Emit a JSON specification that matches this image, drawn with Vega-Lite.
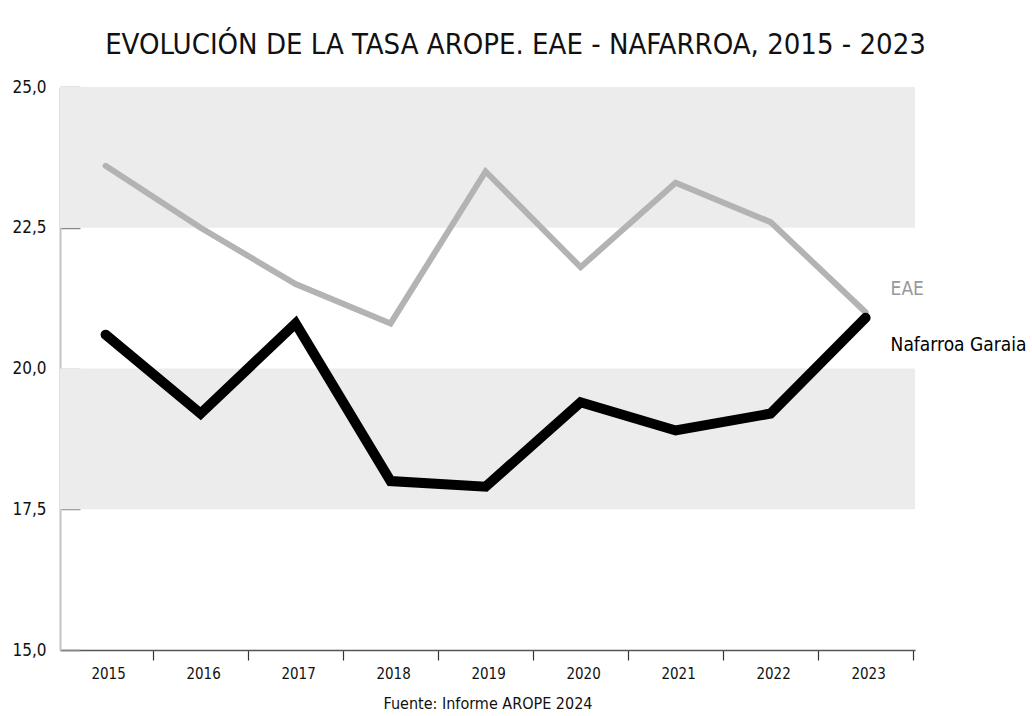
{
  "$schema": "https://vega.github.io/schema/vega-lite/v6.json",
  "autosize": "none",
  "width": 855,
  "height": 563,
  "padding": {"left": 60, "top": 87, "right": 117, "bottom": 66},
  "background": "white",
  "config": {
    "view": {"stroke": null},
    "font": "DejaVu Sans Condensed, Roboto, sans-serif"
  },
  "title": {
    "text": "EVOLUCIÓN DE LA TASA AROPE. EAE - NAFARROA, 2015 - 2023",
    "font": "DejaVu Sans Condensed, Roboto, sans-serif",
    "fontSize": 29,
    "fontWeight": "normal",
    "color": "#111111",
    "anchor": "middle",
    "dx": 28,
    "offset": 18
  },
  "datasets": {
    "series": [
      {"year": 2015, "serie": "EAE", "value": 23.6},
      {"year": 2016, "serie": "EAE", "value": 22.5},
      {"year": 2017, "serie": "EAE", "value": 21.5},
      {"year": 2018, "serie": "EAE", "value": 20.8},
      {"year": 2019, "serie": "EAE", "value": 23.5},
      {"year": 2020, "serie": "EAE", "value": 21.8},
      {"year": 2021, "serie": "EAE", "value": 23.3},
      {"year": 2022, "serie": "EAE", "value": 22.6},
      {"year": 2023, "serie": "EAE", "value": 21.0},
      {"year": 2015, "serie": "Nafarroa Garaia", "value": 20.6},
      {"year": 2016, "serie": "Nafarroa Garaia", "value": 19.2},
      {"year": 2017, "serie": "Nafarroa Garaia", "value": 20.8},
      {"year": 2018, "serie": "Nafarroa Garaia", "value": 18.0},
      {"year": 2019, "serie": "Nafarroa Garaia", "value": 17.9},
      {"year": 2020, "serie": "Nafarroa Garaia", "value": 19.4},
      {"year": 2021, "serie": "Nafarroa Garaia", "value": 18.9},
      {"year": 2022, "serie": "Nafarroa Garaia", "value": 19.2},
      {"year": 2023, "serie": "Nafarroa Garaia", "value": 20.9}
    ],
    "bands": [
      {"from": 17.5, "to": 20.0},
      {"from": 22.5, "to": 25.0}
    ]
  },
  "layer": [
    {
      "data": {"name": "bands"},
      "mark": {"type": "rect", "color": "#ececec"},
      "encoding": {
        "y": {"field": "from", "type": "quantitative", "scale": {"domain": [15, 25]}},
        "y2": {"field": "to"}
      }
    },
    {
      "data": {"name": "series"},
      "mark": {"type": "line", "strokeCap": "round", "strokeJoin": "miter"},
      "encoding": {
        "x": {
          "field": "year", "type": "quantitative",
          "scale": {"domain": [2014.52, 2023.52], "nice": false, "zero": false},
          "axis": {
            "values": [2015, 2016, 2017, 2018, 2019, 2020, 2021, 2022, 2023],
            "format": "d",
            "tickOffset": 47.5,
            "labelOffset": -45,
            "tickSize": 10,
            "tickColor": "#333333",
            "tickWidth": 1.2,
            "domainColor": "#555555",
            "domainWidth": 1.5,
            "labelFontSize": 15,
            "labelFontWeight": "normal",
            "labelColor": "#111111",
            "labelPadding": 6,
            "labelFlush": false,
            "grid": false,
            "title": "Fuente: Informe AROPE 2024",
            "titleFontSize": 16,
            "titleFontWeight": "normal",
            "titleColor": "#111111",
            "titlePadding": 14
          }
        },
        "y": {
          "field": "value", "type": "quantitative",
          "scale": {"domain": [15, 25], "nice": false, "zero": false},
          "axis": {
            "values": [15, 17.5, 20, 22.5, 25],
            "labelExpr": "replace(format(datum.value, '.1f'), '.', ',')",
            "tickSize": -20,
            "tickColor": "#888888",
            "tickWidth": 1.5,
            "domainColor": "#c4c4c4",
            "domainWidth": 2,
            "labelFontSize": 17,
            "labelColor": "#111111",
            "labelPadding": 34,
            "labelFlush": false,
            "grid": false,
            "title": null
          }
        },
        "color": {
          "field": "serie", "type": "nominal",
          "scale": {"domain": ["EAE", "Nafarroa Garaia"], "range": ["#b3b3b3", "#000000"]},
          "legend": null
        },
        "strokeWidth": {
          "field": "serie", "type": "nominal",
          "scale": {"domain": ["EAE", "Nafarroa Garaia"], "range": [6, 10]},
          "legend": null
        }
      }
    },
    {
      "data": {"name": "series"},
      "transform": [{"filter": "datum.year == 2023 && datum.serie == 'EAE'"}],
      "mark": {"type": "text", "align": "left", "baseline": "middle", "dx": 25, "dy": -23, "fontSize": 19, "color": "#999999"},
      "encoding": {
        "x": {"field": "year", "type": "quantitative"},
        "y": {"field": "value", "type": "quantitative"},
        "text": {"field": "serie"}
      }
    },
    {
      "data": {"name": "series"},
      "transform": [{"filter": "datum.year == 2023 && datum.serie == 'Nafarroa Garaia'"}],
      "mark": {"type": "text", "align": "left", "baseline": "middle", "dx": 25, "dy": 27, "fontSize": 19, "color": "#000000"},
      "encoding": {
        "x": {"field": "year", "type": "quantitative"},
        "y": {"field": "value", "type": "quantitative"},
        "text": {"field": "serie"}
      }
    }
  ]
}
